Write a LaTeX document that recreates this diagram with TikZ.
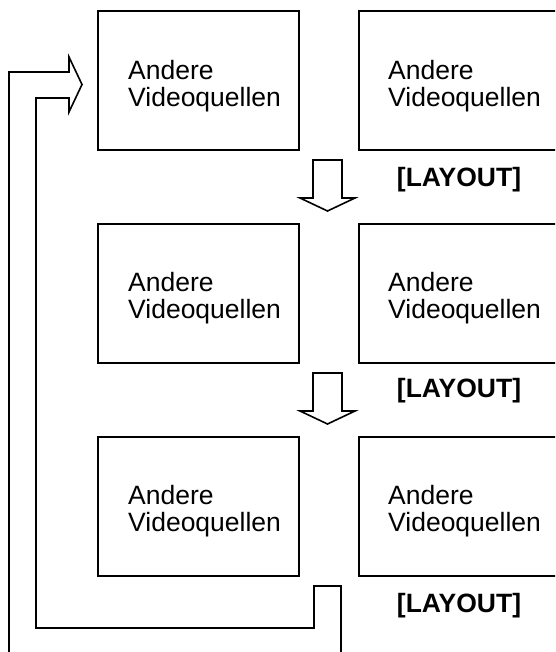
\documentclass[tikz,border=0pt]{standalone}
\usepackage{fontspec}
\setmainfont{Liberation Sans}
\begin{document}
\begin{tikzpicture}[x=1pt,y=-1pt,
  box/.style={draw,line width=1.8pt,rectangle,minimum width=201pt,minimum height=139pt,inner sep=0pt,anchor=north west},
  txt/.style={anchor=north west,inner sep=0pt,align=left,font=\fontsize{26.5}{27}\selectfont},
  lay/.style={anchor=base,inner sep=0pt,font=\fontsize{26.5}{27}\selectfont\bfseries},
  blk/.style={draw,line width=1.6pt,line join=miter}]
\useasboundingbox (0,0) rectangle (555,652);
\clip (0,0) rectangle (555,652);
% row 1
\node[box] (a1) at (97,10) {};
\node[box] (b1) at (358,10) {};
\node[txt] (ta1) at (128,60) {Andere\\Videoquellen};
\node[txt] (tb1) at (388,60) {Andere\\Videoquellen};
\node[lay] (l1) at (459,187) {[LAYOUT]};
% row 2
\node[box] (a2) at (97,223) {};
\node[box] (b2) at (358,223) {};
\node[txt] (ta2) at (128,272) {Andere\\Videoquellen};
\node[txt] (tb2) at (388,272) {Andere\\Videoquellen};
\node[lay] (l2) at (459,397) {[LAYOUT]};
% row 3
\node[box] (a3) at (97,436) {};
\node[box] (b3) at (358,436) {};
\node[txt] (ta3) at (128,485) {Andere\\Videoquellen};
\node[txt] (tb3) at (388,485) {Andere\\Videoquellen};
\node[lay] (l3) at (459,612) {[LAYOUT]};
% down block arrows
\draw[blk] (313,160) -- (342,160) -- (342,198) -- (355,198) -- (327.5,211) -- (300,198) -- (313,198) -- cycle;
\draw[blk] (313,373) -- (342,373) -- (342,411) -- (355,411) -- (327.5,424) -- (300,411) -- (313,411) -- cycle;
% feedback block arrow
\draw[blk] (341,660) -- (341,586) -- (314,586) -- (314,628) -- (36,628) -- (36,98) -- (69,98) -- (69,112) -- (82,84.5) -- (69,57) -- (69,72) -- (9,72) -- (9,660);
\end{tikzpicture}
\end{document}
